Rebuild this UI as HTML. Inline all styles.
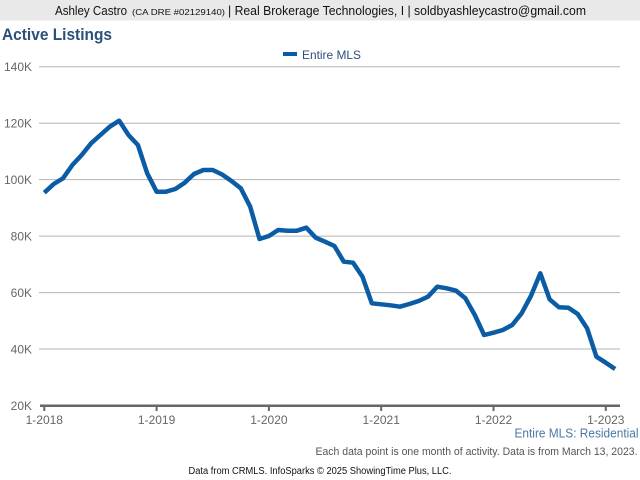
<!DOCTYPE html>
<html><head><meta charset="utf-8"><style>
html,body{margin:0;padding:0;background:#fff;}
svg{display:block;font-family:"Liberation Sans",Arial,sans-serif;}
</style></head><body>
<svg width="640" height="480" viewBox="0 0 640 480" xmlns="http://www.w3.org/2000/svg">
<rect x="0" y="0" width="640" height="480" fill="#fff"/>
<rect x="0" y="0" width="640" height="20.5" fill="#e9e9e9"/>
<text x="55" y="15" font-size="12.5" fill="#111" textLength="72" lengthAdjust="spacingAndGlyphs">Ashley Castro</text>
<text x="132" y="15" font-size="8.5" fill="#111" textLength="93" lengthAdjust="spacingAndGlyphs">(CA DRE #02129140)</text>
<text x="228" y="15" font-size="12.5" fill="#111" textLength="358" lengthAdjust="spacingAndGlyphs">| Real Brokerage Technologies, I | soldbyashleycastro@gmail.com</text>
<text x="2" y="40" font-size="16.5" font-weight="bold" fill="#2b5079" textLength="110" lengthAdjust="spacingAndGlyphs">Active Listings</text>
<rect x="283" y="52" width="14" height="4" fill="#0a5ca5"/>
<text x="302" y="59" font-size="12" fill="#2d4f7a" textLength="59" lengthAdjust="spacingAndGlyphs">Entire MLS</text>
<g stroke="#b3b3b3" stroke-width="1">
<line x1="39" y1="66.7" x2="620" y2="66.7"/>
<line x1="39" y1="123.2" x2="620" y2="123.2"/>
<line x1="39" y1="179.6" x2="620" y2="179.6"/>
<line x1="39" y1="236.1" x2="620" y2="236.1"/>
<line x1="39" y1="292.6" x2="620" y2="292.6"/>
<line x1="39" y1="349" x2="620" y2="349"/>
</g>
<g font-size="12" fill="#666" text-anchor="end">
<text x="32" y="71.2">140K</text>
<text x="32" y="127.7">120K</text>
<text x="32" y="184.1">100K</text>
<text x="32" y="240.6">80K</text>
<text x="32" y="297.1">60K</text>
<text x="32" y="353.5">40K</text>
<text x="32" y="410">20K</text>
</g>
<line x1="40" y1="405.8" x2="620" y2="405.8" stroke="#666" stroke-width="2.5"/>
<g stroke="#666" stroke-width="2">
<line x1="44.3" y1="405" x2="44.3" y2="411"/>
<line x1="156.6" y1="405" x2="156.6" y2="411"/>
<line x1="268.9" y1="405" x2="268.9" y2="411"/>
<line x1="381.2" y1="405" x2="381.2" y2="411"/>
<line x1="493.5" y1="405" x2="493.5" y2="411"/>
<line x1="605.8" y1="405" x2="605.8" y2="411"/>
</g>
<g font-size="12" fill="#666" text-anchor="middle">
<text x="44.3" y="424">1-2018</text>
<text x="156.6" y="424">1-2019</text>
<text x="268.9" y="424">1-2020</text>
<text x="381.2" y="424">1-2021</text>
<text x="493.5" y="424">1-2022</text>
<text x="605.8" y="424">1-2023</text>
</g>
<polyline fill="none" stroke="#0a5ca5" stroke-width="4.5" stroke-linejoin="round" stroke-linecap="butt" points="
44.3,192.7 53.7,184 63.0,178.3 72.4,165 81.7,155 91.1,143.3 100.4,135 109.8,126.7 119.2,120.7 128.5,135 137.9,145 147.2,173.3
156.6,191.7 166.0,191.7 175.3,189 184.7,182.7 194.0,174 203.4,170 212.7,170 222.1,174.5 231.5,181 240.8,188.3 250.2,206.7 259.5,239
268.9,236 278.2,230 287.6,230.7 297.0,230.7 306.3,227.7 315.7,237.7 325.0,241.7 334.4,246 343.8,261.7 353.1,262.7 362.5,276.7 371.8,303.3
381.2,304.3 390.5,305.3 399.9,306.7 409.3,304 418.6,301 428.0,296.7 437.3,286.7 446.7,288.3 456.1,290.7 465.4,298.3 474.8,315 484.1,335
493.5,332.7 502.8,330 512.2,325 521.6,313.3 530.9,296 540.3,273.3 549.6,299.3 559.0,307.3 568.4,307.7 577.7,314 587.1,328.3 596.4,356.7
605.8,362.7 615.1,369"/>
<text x="638.5" y="437.5" font-size="12.5" fill="#4a78a8" text-anchor="end" textLength="124" lengthAdjust="spacingAndGlyphs">Entire MLS: Residential</text>
<text x="637.5" y="455" font-size="11" fill="#555" text-anchor="end" textLength="322" lengthAdjust="spacingAndGlyphs">Each data point is one month of activity. Data is from March 13, 2023.</text>
<text x="320" y="474" font-size="10" fill="#111" text-anchor="middle" textLength="263" lengthAdjust="spacingAndGlyphs">Data from CRMLS. InfoSparks © 2025 ShowingTime Plus, LLC.</text>
</svg>
</body></html>
